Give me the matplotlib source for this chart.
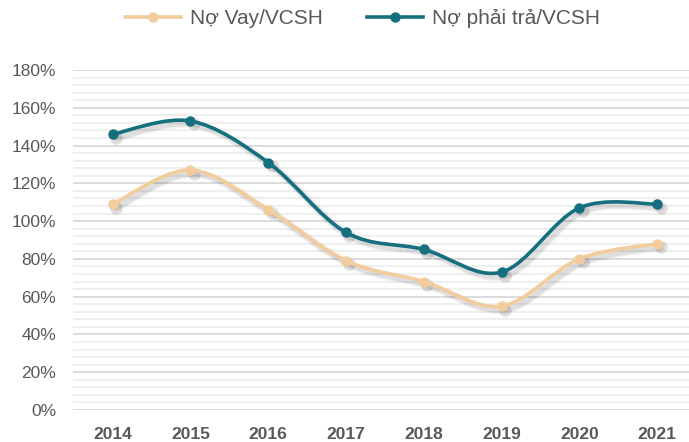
import numpy as np
import matplotlib
matplotlib.use("Agg")
import matplotlib.pyplot as plt
import matplotlib.transforms as mtransforms
from matplotlib.path import Path
from matplotlib.patches import PathPatch
from matplotlib.lines import Line2D
from matplotlib.ticker import MultipleLocator, FuncFormatter

plt.rcParams["font.family"] = ["Liberation Sans", "DejaVu Sans"]

# data (in %)
years = ["2014", "2015", "2016", "2017", "2018", "2019", "2020", "2021"]
no_vay = [109, 127, 106, 79, 68, 55, 80, 88]
no_phai_tra = [146, 153, 131, 94, 85, 73, 107, 109]
labels = ["Nợ Vay/VCSH", "Nợ phải trả/VCSH"]
colors = ["#F2CC9C", "#156F7E"]
text_color = "#595959"


def smooth_path(xs, ys):
    # excel-like smoothed line: catmull-rom converted to cubic bezier
    pts = np.column_stack([xs, ys]).astype(float)
    n = len(pts)
    verts = [pts[0]]
    codes = [Path.MOVETO]
    for i in range(n - 1):
        p0 = pts[i - 1] if i > 0 else pts[i]
        p1 = pts[i]
        p2 = pts[i + 1]
        p3 = pts[i + 2] if i + 2 < n else pts[i + 1]
        c1 = p1 + (p2 - p0) / 6.0
        c2 = p2 - (p3 - p1) / 6.0
        verts += [c1, c2, p2]
        codes += [Path.CURVE4] * 3
    return Path(verts, codes)


fig = plt.figure(figsize=(6.89, 4.42), dpi=100)
ax = fig.add_axes([73 / 689, 32 / 442, 1 - 73 / 689, 340 / 442])

x = np.arange(len(years))
offset = ax.transData + mtransforms.ScaledTranslation(2.5 / 72, -2.5 / 72, fig.dpi_scale_trans)

for vals, col in zip([no_vay, no_phai_tra], colors):
    # soft drop shadow
    for lw, a in [(6, 0.05), (4, 0.08)]:
        ax.add_patch(PathPatch(smooth_path(x, vals), fill=False, edgecolor="black", lw=lw,
                               alpha=a, zorder=2, transform=offset, capstyle="round"))
    ax.plot(x, vals, "o", color="black", alpha=0.12, ms=9, mew=0, zorder=2, transform=offset)
    ax.add_patch(PathPatch(smooth_path(x, vals), fill=False, edgecolor=col, lw=2.6,
                           capstyle="round", joinstyle="round", zorder=3))
    ax.plot(x, vals, "o", color=col, ms=7.5, mew=0, zorder=4)

ax.set_xlim(-0.51, 7.41)
ax.set_ylim(0, 180)
ax.set_xticks(x)
ax.set_xticklabels(years, fontsize=12.5, fontweight="bold", color=text_color)
ax.yaxis.set_major_locator(MultipleLocator(20))
ax.yaxis.set_minor_locator(MultipleLocator(4))
ax.yaxis.set_major_formatter(FuncFormatter(lambda v, p: f"{v:.0f}%"))
for t in ax.get_yticklabels():
    t.set_fontsize(12.5)
    t.set_color(text_color)
ax.tick_params(axis="both", which="both", length=0)
ax.tick_params(axis="x", pad=12)
ax.tick_params(axis="y", pad=12)

ax.grid(axis="y", which="major", color="#D9D9D9", lw=1.3, zorder=0)
ax.grid(axis="y", which="minor", color="#EFEFEF", lw=1.6, zorder=0)
ax.set_axisbelow(True)
for s in ax.spines.values():
    s.set_visible(False)

handles = [Line2D([], [], color=c, lw=2.6, marker="o", ms=7.5, mew=0) for c in colors]
fig.legend(handles, labels, loc="center", bbox_to_anchor=(0.5 + 18 / 689, 1 - 19 / 442), ncol=2,
           frameon=False, fontsize=15, handlelength=2.7, handletextpad=0.45,
           columnspacing=2.1, labelcolor=text_color)

fig.savefig("out.png", dpi=100)
